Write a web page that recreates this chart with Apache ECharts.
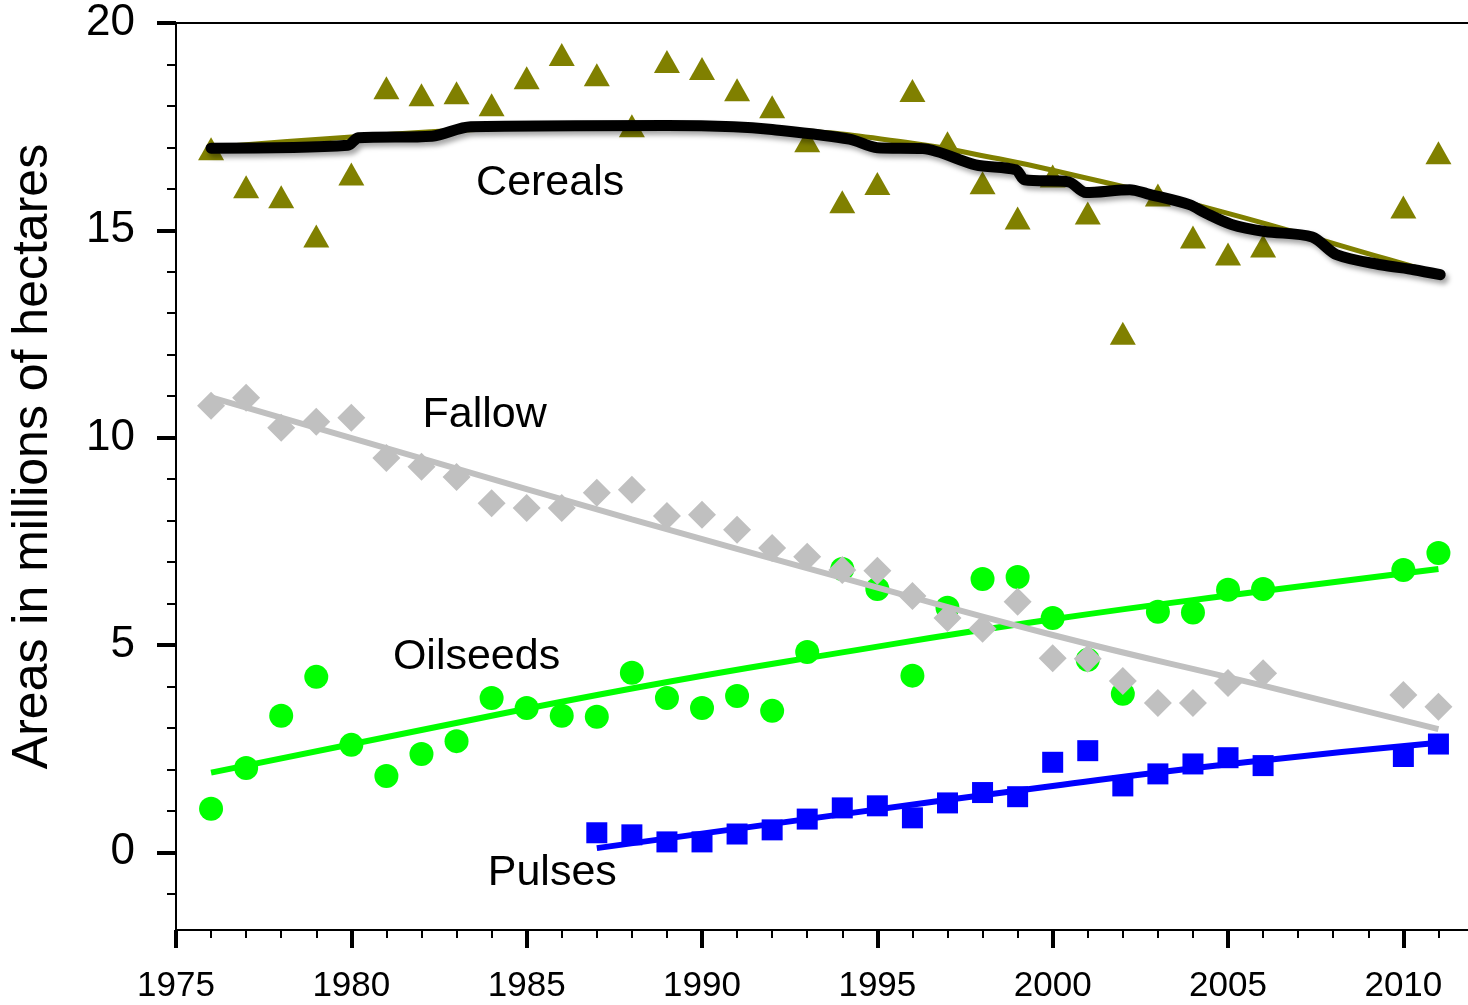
<!DOCTYPE html>
<html>
<head>
<meta charset="utf-8">
<script src="https://cdn.jsdelivr.net/npm/echarts@6/dist/echarts.min.js"></script>
<style>
html,body{margin:0;padding:0;background:#fff;}
#chart{width:1468px;height:1005px;}
</style>
</head>
<body>
<div id="chart"></div>
<script>
// ---- Data ----
const cerealsYears = [1976,1977,1978,1979,1980,1981,1982,1983,1984,1985,1986,1987,1988,1989,1990,1991,1992,1993,1994,1995,1996,1997,1998,1999,2000,2001,2002,2003,2004,2005,2006,2010,2011];
const cerealsValues = [16.97,16.05,15.81,14.86,16.36,18.44,18.27,18.32,18.03,18.68,19.24,18.75,17.52,19.07,18.9,18.39,17.98,17.16,15.69,16.13,18.37,17.11,16.15,15.3,16.31,15.42,12.52,15.85,14.84,14.43,14.62,15.56,16.87];

const fallowYears = cerealsYears;
const fallowValues = [10.77,10.96,10.24,10.38,10.48,9.51,9.3,9.05,8.42,8.3,8.3,8.67,8.74,8.11,8.14,7.78,7.34,7.13,6.81,6.79,6.18,5.65,5.39,6.04,4.68,4.67,4.13,3.6,3.6,4.08,4.32,3.79,3.51];

const oilseedsYears = cerealsYears;
const oilseedsValues = [1.05,2.03,3.29,4.23,2.59,1.84,2.37,2.68,3.72,3.48,3.29,3.27,4.33,3.72,3.48,3.77,3.41,4.83,6.83,6.35,4.26,5.9,6.59,6.64,5.65,4.64,3.82,5.8,5.78,6.33,6.35,6.81,7.22];

const pulsesYears = [1987,1988,1989,1990,1991,1992,1993,1994,1995,1996,1997,1998,1999,2000,2001,2002,2003,2004,2005,2006,2010,2011];
const pulsesValues = [0.47,0.42,0.25,0.25,0.44,0.54,0.8,1.07,1.12,0.83,1.19,1.44,1.34,2.17,2.45,1.6,1.89,2.13,2.28,2.09,2.31,2.61];

// Trend curves
const cerealsTrendYears = [1976,1980,1984,1988,1992,1996,1998.3,2000,2004.6,2009.6,2011];
const cerealsTrendValues = [17.0,17.25,17.45,17.55,17.45,17.1,16.75,16.45,15.5,14.29,13.95];

const cerealsSmoothYears = [1976,1979.9,1980.2,1982.3,1983.4,1989.0,1990.9,1992.0,1994.2,1995.0,1996.3,1997.8,1998.95,1999.2,2000.45,2000.95,2002.2,2002.7,2003.9,2004.35,2005.1,2006.05,2007.4,2008.1,2009.35,2010.3,2011.05];
const cerealsSmoothValues = [16.98,17.05,17.23,17.27,17.5,17.53,17.5,17.43,17.2,16.99,16.97,16.58,16.46,16.22,16.17,15.91,15.98,15.88,15.62,15.42,15.14,14.97,14.84,14.41,14.17,14.05,13.93];

const fallowTrendYears = [1976,1982,1988,1994,2000,2006,2011];
const fallowTrendValues = [10.97,9.5,8.03,6.62,5.24,4.02,2.97];

const oilseedsTrendYears = [1976,1982,1988,1994,2000,2006,2011];
const oilseedsTrendValues = [1.92,2.95,3.95,4.82,5.62,6.3,6.83];

const pulsesTrendYears = [1987,1993.5,2000,2005.5,2011];
const pulsesTrendValues = [0.1,0.86,1.6,2.17,2.64];

const seriesLabels = ['Cereals','Fallow','Oilseeds','Pulses'];
const labelYears = [1985.67,1983.8,1983.57,1985.73];
const labelValues = [16.13,10.55,4.7,-0.5];

const xMajorTicks = [1975,1980,1985,1990,1995,2000,2005,2010];
const yMajorTicks = [0,5,10,15,20];
const yTitle = 'Areas in millions of hectares';

// ---- Helpers ----
const zip = (xs, ys) => xs.map((x, i) => [x, ys[i]]);
const FONT = '"Liberation Sans", Arial, sans-serif';
const xMin = 1975, xMax = 2012, yMin = -1.875, yMax = 20;

const xMinor = [];
for (let y = xMin; y <= xMax; y++) if (xMajorTicks.indexOf(y) < 0) xMinor.push(y);
const yMinor = [];
for (let v = -1; v < yMax; v++) if (yMajorTicks.indexOf(v) < 0) yMinor.push(v);

const chart = echarts.init(document.getElementById('chart'), null, {renderer: 'canvas'});
chart.setOption({
  animation: false,
  backgroundColor: '#ffffff',
  grid: {left: 176, top: 23, width: 1297.5, height: 907, containLabel: false, outerBoundsMode: 'none'},
  xAxis: [
    {
      type: 'value', position: 'bottom', min: xMin, max: xMax,
      axisLine: {show: true, onZero: false, lineStyle: {color: '#000', width: 2}},
      axisTick: {show: true, customValues: xMajorTicks, length: 18, lineStyle: {color: '#000', width: 4}},
      axisLabel: {show: true, customValues: xMajorTicks, formatter: v => String(v), fontSize: 35, color: '#000', fontFamily: FONT, margin: 39},
      splitLine: {show: false}
    },
    {
      type: 'value', position: 'bottom', min: xMin, max: xMax,
      axisLine: {show: false, onZero: false},
      axisTick: {show: true, customValues: xMinor, length: 8, lineStyle: {color: '#000', width: 2}},
      axisLabel: {show: false},
      splitLine: {show: false}
    },
    {
      type: 'value', position: 'top', min: xMin, max: xMax,
      axisLine: {show: true, onZero: false, lineStyle: {color: '#000', width: 2}},
      axisTick: {show: false}, axisLabel: {show: false}, splitLine: {show: false}
    }
  ],
  yAxis: [
    {
      type: 'value', position: 'left', min: yMin, max: yMax,
      axisLine: {show: true, onZero: false, lineStyle: {color: '#000', width: 2}},
      axisTick: {show: true, customValues: yMajorTicks, length: 19, lineStyle: {color: '#000', width: 4}},
      axisLabel: {show: true, customValues: yMajorTicks, formatter: v => String(v), fontSize: 44, color: '#000', fontFamily: FONT, margin: 41},
      splitLine: {show: false},
      name: yTitle, nameLocation: 'middle', nameRotate: 90, nameGap: 118,
      nameTextStyle: {fontSize: 50, color: '#000', fontFamily: FONT, padding: [0, 0, 0, 40]}
    },
    {
      type: 'value', position: 'left', min: yMin, max: yMax,
      axisLine: {show: false, onZero: false},
      axisTick: {show: true, customValues: yMinor, length: 9, lineStyle: {color: '#000', width: 2}},
      axisLabel: {show: false}, splitLine: {show: false}
    }
  ],
  series: [
    {type: 'line', name: 'Oilseeds trend', data: zip(oilseedsTrendYears, oilseedsTrendValues), smooth: true, symbol: 'none',
     lineStyle: {color: '#00ff00', width: 6}, z: 2},
    {type: 'scatter', name: 'Oilseeds', data: zip(oilseedsYears, oilseedsValues), symbol: 'circle', symbolSize: 24,
     itemStyle: {color: '#00ff00', opacity: 1}, z: 3},
    {type: 'line', name: 'Fallow trend', data: zip(fallowTrendYears, fallowTrendValues), smooth: true, symbol: 'none',
     lineStyle: {color: '#c0c0c0', width: 6}, z: 4},
    {type: 'scatter', name: 'Fallow', data: zip(fallowYears, fallowValues), symbol: 'diamond', symbolSize: 28,
     itemStyle: {color: '#c0c0c0', opacity: 1}, z: 5},
    {type: 'line', name: 'Pulses trend', data: zip(pulsesTrendYears, pulsesTrendValues), smooth: true, symbol: 'none',
     lineStyle: {color: '#0000ff', width: 6}, z: 6},
    {type: 'scatter', name: 'Pulses', data: zip(pulsesYears, pulsesValues), symbol: 'rect', symbolSize: 21,
     itemStyle: {color: '#0000ff', opacity: 1}, z: 7},
    {type: 'scatter', name: 'Cereals', data: zip(cerealsYears, cerealsValues), symbol: 'triangle', symbolSize: [26, 23],
     itemStyle: {color: '#808000', opacity: 1}, z: 8},
    {type: 'line', name: 'Cereals trend', data: zip(cerealsTrendYears, cerealsTrendValues), smooth: true, symbol: 'none',
     lineStyle: {color: '#808000', width: 5}, z: 9},
    {type: 'line', name: 'Cereals smooth', data: zip(cerealsSmoothYears, cerealsSmoothValues), smooth: 0.3, symbol: 'none',
     lineStyle: {color: '#000000', width: 11, shadowColor: 'rgba(0,0,0,0.35)', shadowBlur: 5, shadowOffsetX: 3, shadowOffsetY: 4, cap: 'round', join: 'round'}, z: 10},
    {type: 'scatter', name: 'labels', data: labelYears.map((x, i) => [x, labelValues[i], seriesLabels[i]]),
     symbolSize: 0, silent: true, z: 11, itemStyle: {opacity: 1},
     label: {show: true, position: 'inside', formatter: p => p.value[2], fontSize: 43, color: '#000', fontFamily: FONT, opacity: 1}}
  ]
});
</script>
</body>
</html>
